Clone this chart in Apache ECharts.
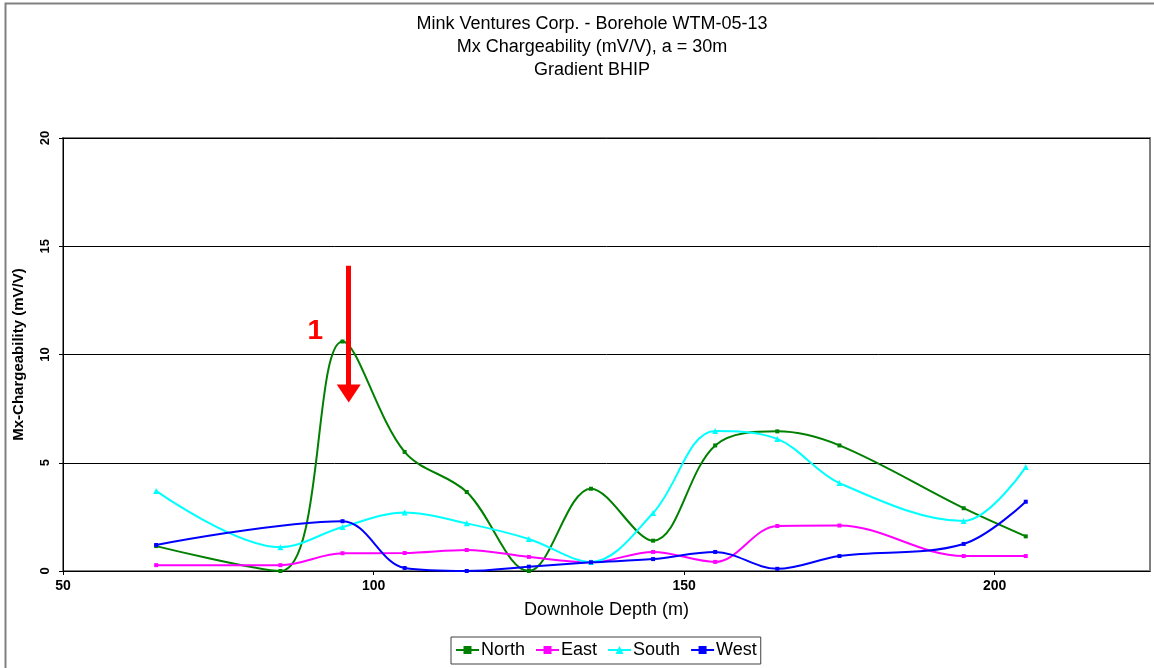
<!DOCTYPE html>
<html>
<head>
<meta charset="utf-8">
<script src="https://cdn.jsdelivr.net/npm/echarts@6/dist/echarts.min.js"></script>
<style>
html,body{margin:0;padding:0;background:#fff;}
#chart{width:1154px;height:668px;}
</style>
</head>
<body>
<div id="chart"></div>
<script>
// ---- data ----
const titleLines = ['Mink Ventures Corp. - Borehole WTM-05-13', 'Mx Chargeability (mV/V), a = 30m', 'Gradient BHIP'];
const xAxisName = 'Downhole Depth (m)';
const yAxisName = 'Mx-Chargeability (mV/V)';
const seriesNames = ['North', 'East', 'South', 'West'];

const northDepth = [65, 85, 95, 105, 115, 125, 135, 145, 155, 165, 175, 195, 205];
const northValue = [1.15, 0.0, 10.6, 5.5, 3.65, 0.0, 3.8, 1.4, 5.8, 6.45, 5.8, 2.9, 1.6];

const eastDepth = [65, 85, 95, 105, 115, 125, 135, 145, 155, 165, 175, 195, 205];
const eastValue = [0.27, 0.27, 0.82, 0.83, 0.97, 0.65, 0.4, 0.88, 0.42, 2.08, 2.1, 0.69, 0.69];

const southDepth = [65, 85, 95, 105, 115, 125, 135, 145, 155, 165, 175, 195, 205];
const southValue = [3.7, 1.1, 2.03, 2.7, 2.2, 1.48, 0.42, 2.68, 6.47, 6.1, 4.06, 2.31, 4.8];

const westDepth = [65, 95, 105, 115, 125, 135, 145, 155, 165, 175, 195, 205];
const westValue = [1.2, 2.3, 0.14, 0.0, 0.2, 0.4, 0.55, 0.88, 0.1, 0.69, 1.25, 3.2];

// annotation (arrow + label "1"), in data units
const arrowFrom = [96, 14.1];
const arrowTo = [96, 8.2];
const noteLabel = '1';
const notePos = [90.6, 11.05];

const colors = ['#008000', '#FF00FF', '#00FFFF', '#0000FF'];
const symbols = ['rect', 'rect', 'triangle', 'rect'];

function pairs(xs, ys) { return xs.map((x, i) => [x, ys[i]]); }
const allData = [
  pairs(northDepth, northValue),
  pairs(eastDepth, eastValue),
  pairs(southDepth, southValue),
  pairs(westDepth, westValue)
];

const FONT = 'Liberation Sans, Arial, sans-serif';
const chart = echarts.init(document.getElementById('chart'), null, {renderer: 'canvas'});

const series = seriesNames.map((name, i) => ({
  name: name,
  type: 'line',
  data: allData[i],
  smooth: 0.35,
  symbol: symbols[i],
  symbolSize: symbols[i] === 'triangle' ? 6 : 4,
  showAllSymbol: true,
  clip: true,
  itemStyle: {color: colors[i]},
  lineStyle: {color: colors[i], width: 2},
  z: 3 + i
}));

series[0].markLine = {
  silent: true,
  animation: false,
  label: {show: false},
  symbol: ['none', 'triangle'],
  symbolSize: [24, 18],
  lineStyle: {color: '#FF0000', width: 5, type: 'solid'},
  emphasis: {disabled: true},
  data: [[{coord: arrowFrom}, {coord: arrowTo}]],
  z: 10
};
series[0].markPoint = {
  silent: true,
  animation: false,
  symbol: 'circle',
  symbolSize: 1,
  itemStyle: {color: 'rgba(0,0,0,0)'},
  label: {show: true, formatter: noteLabel, color: '#FF0000', fontSize: 28, fontWeight: 'bold', fontFamily: FONT, position: 'inside'},
  data: [{coord: notePos}]
};

const option = {
  animation: false,
  backgroundColor: '#ffffff',
  textStyle: {fontFamily: FONT},
  title: {
    text: titleLines.join('\n'),
    left: 587,
    top: 8,
    textAlign: 'center',
    textStyle: {fontSize: 18, fontWeight: 'normal', color: '#000', lineHeight: 23, fontFamily: FONT}
  },
  graphic: [{
    type: 'rect',
    shape: {x: 5.5, y: 3.5, width: 1170, height: 700},
    style: {fill: 'none', stroke: '#808080', lineWidth: 2},
    silent: true,
    z: -10
  }],
  legend: {
    data: seriesNames,
    left: 451,
    top: 637,
    orient: 'horizontal',
    borderColor: '#404040',
    borderWidth: 1,
    padding: [4, 4, 5, 4],
    itemGap: 10,
    itemWidth: 23,
    itemHeight: 10,
    textStyle: {fontSize: 18, color: '#000', padding: [0, 0, 0, -3], fontFamily: FONT}
  },
  grid: {
    left: 63,
    right: 4,
    top: 138,
    bottom: 97,
    show: true,
    borderColor: '#808080',
    borderWidth: 2,
    backgroundColor: '#ffffff'
  },
  xAxis: {
    type: 'value',
    min: 50,
    max: 225,
    interval: 50,
    name: xAxisName,
    nameLocation: 'middle',
    nameGap: 30,
    nameTextStyle: {fontSize: 18, color: '#000'},
    axisLine: {show: true, onZero: false, lineStyle: {color: '#000', width: 1}},
    axisTick: {show: true, inside: false, length: 4, lineStyle: {color: '#000'}},
    axisLabel: {
      color: '#000', fontSize: 14, fontWeight: 'bold', margin: 8,
      showMaxLabel: false,
      formatter: v => (v % 50 === 0 ? String(v) : '')
    },
    splitLine: {show: false}
  },
  yAxis: {
    type: 'value',
    min: 0,
    max: 20,
    interval: 5,
    name: yAxisName,
    nameLocation: 'middle',
    nameGap: 37,
    nameRotate: 90,
    nameTextStyle: {fontSize: 15, fontWeight: 'bold', color: '#000'},
    axisLine: {show: true, lineStyle: {color: '#000', width: 1}},
    axisTick: {show: true, inside: false, length: 4, lineStyle: {color: '#000'}},
    axisLabel: {color: '#000', fontSize: 13, fontWeight: 'bold', rotate: 90, margin: 11},
    splitLine: {show: true, lineStyle: {color: '#000', width: 1}}
  },
  series: series
};

chart.setOption(option);
</script>
</body>
</html>
